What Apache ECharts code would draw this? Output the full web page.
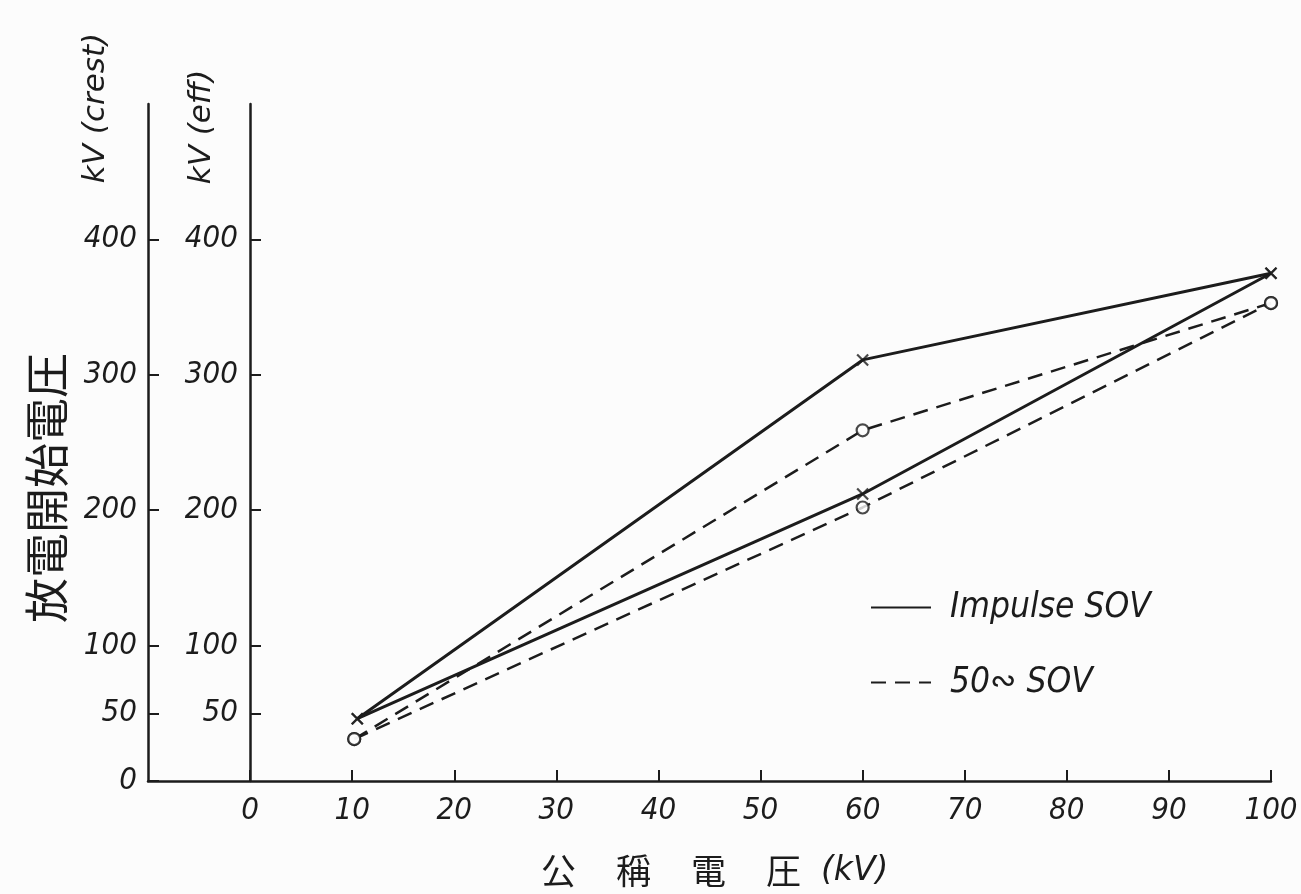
<!DOCTYPE html>
<html>
<head>
<meta charset="utf-8">
<script src="https://cdn.jsdelivr.net/npm/echarts@6/dist/echarts.min.js"></script>
<style>
html,body{margin:0;padding:0;background:#fcfcfc;}
#chart{width:1301px;height:894px;}
</style>
</head>
<body>
<div id="chart"></div>
<script>
// ---- data ----
const xTickValues = [0, 10, 20, 30, 40, 50, 60, 70, 80, 90, 100];
const yTicksCrest = [0, 50, 100, 200, 300, 400];
const yTicksEff = [50, 100, 200, 300, 400];

const impulseX = [10.5, 60, 100];
const impulseUpper = [46, 311, 375];
const impulseLower = [46, 212, 375];

const acX = [10.2, 60, 100];
const acUpper = [31, 259, 353];
const acLower = [31, 202, 353];

const nameImpulse = 'Impulse SOV';
const nameAC = '50\u223E SOV';

const INK = '#1c1c1c';
const NARROW = '"Liberation Sans Narrow", "DejaVu Sans Condensed", "DejaVu Sans", sans-serif';

function pairs(xs, ys) { return xs.map((x, i) => [x, ys[i]]); }

const chart = echarts.init(document.getElementById('chart'));

const xPath = 'path://M0,0L10,10M10,0L0,10';

const option = {
  backgroundColor: '#fcfcfc',
  animation: false,
  grid: { left: 148, right: 30, top: 104, bottom: 113, containLabel: false },
  xAxis: {
    type: 'value', min: -10, max: 100, interval: 10,
    axisLine: { show: true, lineStyle: { color: INK, width: 2.5 } },
    axisTick: { show: true, inside: true, length: 11, customValues: xTickValues, lineStyle: { color: INK, width: 2 } },
    axisLabel: {
      customValues: xTickValues, margin: 14, color: INK,
      fontFamily: NARROW, fontStyle: 'italic', fontSize: 31
    },
    splitLine: { show: false }
  },
  yAxis: [
    {
      type: 'value', min: 0, max: 500, position: 'left',
      axisLine: { show: true, onZero: false, lineStyle: { color: INK, width: 2.5 } },
      axisTick: { show: true, inside: true, length: 11, customValues: yTicksCrest, lineStyle: { color: INK, width: 2 } },
      axisLabel: {
        customValues: yTicksCrest, margin: 11, color: INK,
        fontFamily: NARROW, fontStyle: 'italic', fontSize: 31
      },
      splitLine: { show: false }
    },
    {
      type: 'value', min: 0, max: 500, position: 'left', offset: -102,
      axisLine: { show: true, onZero: false, lineStyle: { color: INK, width: 2.5 } },
      axisTick: { show: true, inside: true, length: 11, customValues: yTicksEff, lineStyle: { color: INK, width: 2 } },
      axisLabel: {
        customValues: yTicksEff, margin: 12, color: INK,
        fontFamily: NARROW, fontStyle: 'italic', fontSize: 31
      },
      splitLine: { show: false }
    }
  ],
  legend: {
    orient: 'vertical', left: 865, top: 585,
    itemWidth: 60, itemHeight: 2, itemGap: 40,
    data: [nameImpulse, nameAC],
    itemStyle: { opacity: 0, color: 'rgba(0,0,0,0)', borderWidth: 0 },
    textStyle: { color: INK, fontFamily: NARROW, fontStyle: 'italic', fontSize: 35, padding: [0, 0, 0, 14] },
    selectedMode: false
  },
  series: [
    {
      name: nameImpulse, type: 'line', symbol: 'none', data: pairs(impulseX, impulseUpper),
      lineStyle: { color: INK, width: 3, type: 'solid' }, itemStyle: { color: INK }
    },
    {
      name: nameImpulse, type: 'line', symbol: 'none', data: pairs(impulseX, impulseLower),
      lineStyle: { color: INK, width: 3, type: 'solid' }, itemStyle: { color: INK }
    },
    {
      name: nameAC, type: 'line', symbol: 'none', data: pairs(acX, acUpper),
      lineStyle: { color: INK, width: 2.5, type: [15, 9] }, itemStyle: { color: INK }
    },
    {
      name: nameAC, type: 'line', symbol: 'none', data: pairs(acX, acLower),
      lineStyle: { color: INK, width: 2.5, type: [15, 9] }, itemStyle: { color: INK }
    },
    {
      name: 'impulse points', type: 'scatter', symbol: xPath, symbolSize: 11,
      data: pairs(impulseX, impulseUpper).concat(pairs(impulseX, impulseLower)),
      itemStyle: { color: 'rgba(0,0,0,0)', borderColor: INK, borderWidth: 2.2 }, z: 5
    },
    {
      name: 'ac points', type: 'scatter', symbol: 'circle', symbolSize: 12,
      data: pairs(acX, acUpper).concat(pairs(acX, acLower)),
      itemStyle: { color: '#fcfcfc', borderColor: INK, borderWidth: 2.2 }, z: 5
    }
  ],
  graphic: [
    {
      type: 'text', x: 96, y: 108, rotation: Math.PI / 2,
      style: { text: 'kV (crest)', fill: INK, align: 'center', verticalAlign: 'middle',
        fontFamily: '"DejaVu Sans", sans-serif', fontStyle: 'italic', fontSize: 31 }
    },
    {
      type: 'text', x: 202, y: 127, rotation: Math.PI / 2,
      style: { text: 'kV (eff)', fill: INK, align: 'center', verticalAlign: 'middle',
        fontFamily: '"DejaVu Sans", sans-serif', fontStyle: 'italic', fontSize: 31 }
    },
    {
      type: 'text', x: 47, y: 488, rotation: Math.PI / 2,
      style: { text: '放電開始電圧', fill: INK, align: 'center', verticalAlign: 'middle',
        fontFamily: '"Noto Sans CJK JP", sans-serif', fontSize: 45 }
    },
    {
      type: 'text', x: 521, y: 871,
      style: {
        text: '{c|公}{c|稱}{c|電}{c|圧}{l|(kV)}',
        align: 'left', verticalAlign: 'middle', fill: INK,
        rich: {
          c: { fontFamily: '"Noto Sans CJK JP", sans-serif', fontSize: 35, padding: [0, 20, 0, 20], fill: INK },
          l: { fontFamily: '"DejaVu Sans", sans-serif', fontStyle: 'italic', fontSize: 33, fill: INK, padding: [0, 0, 0, 0] }
        }
      }
    }
  ]
};

chart.setOption(option);
</script>
</body>
</html>
